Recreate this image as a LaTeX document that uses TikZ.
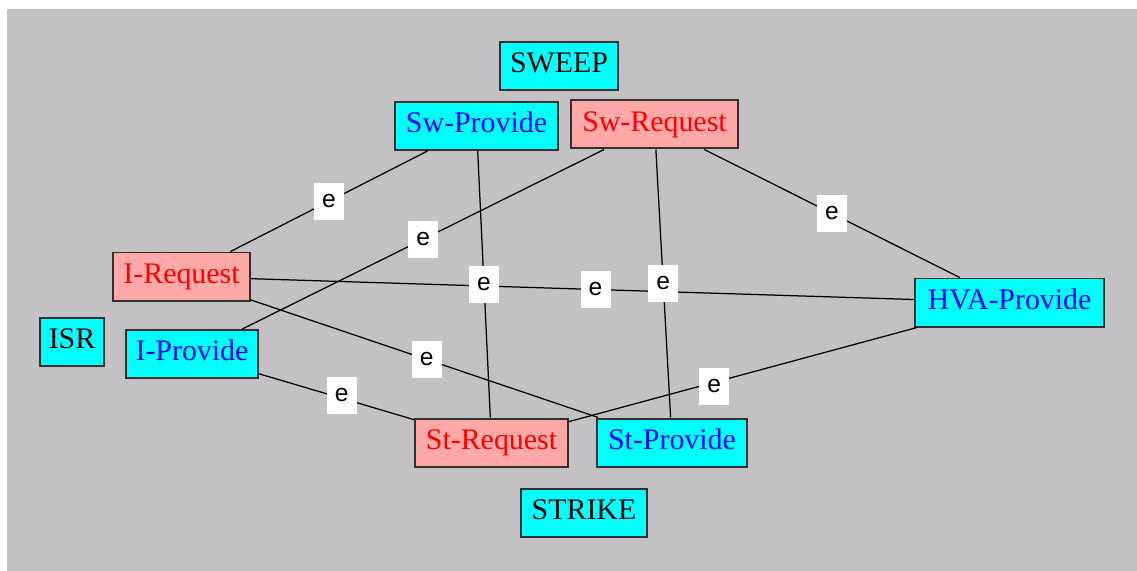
\documentclass[tikz,border=0pt]{standalone}
\usepackage{fontspec}
\setmainfont{Liberation Serif}
\newfontfamily\labfont{Liberation Sans}
\usetikzlibrary{calc}
\definecolor{bggray}{HTML}{C3C1C4}
\definecolor{boxcyan}{HTML}{00FFFF}
\definecolor{boxpink}{HTML}{FFA8A8}
\definecolor{boxborder}{HTML}{303030}
\tikzset{
  box/.style={draw=boxborder, line width=0.04cm, inner sep=0pt,
    font=\fontsize{17}{20}\selectfont, text height=0.8em, text depth=0.04em,
    minimum height=48*0.02cm},
  prov/.style={box, fill=boxcyan, text=blue},
  req/.style={box, fill=boxpink, text=red},
  grp/.style={box, fill=boxcyan, text=black},
  lab/.style={fill=white, inner sep=0pt, minimum width=30*0.02cm,
    minimum height=37*0.02cm, font=\labfont\fontsize{14}{16}\selectfont},
  conn/.style={line width=0.025cm, draw=black}
}
\begin{document}
\begin{tikzpicture}[x=0.02cm, y=-0.02cm]
\useasboundingbox (0,0) rectangle (1137,571);
\fill[bggray] (7,9) rectangle (1137,571);
% nodes
\node[grp, minimum width=118*0.02cm] (sweep) at (559,66) {SWEEP};
\node[prov, minimum width=163*0.02cm] (swp) at (476.5,126) {Sw-Provide};
\node[req, minimum width=167*0.02cm] (swr) at (654.5,124.5) {Sw-Request};
\node[req, minimum width=137*0.02cm] (ir) at (181.5,276.5) {I-Request};
\node[prov, minimum width=132*0.02cm] (ip) at (192,354) {I-Provide};
\node[grp, minimum width=64*0.02cm] (isr) at (72,342) {ISR};
\node[prov, minimum width=189*0.02cm] (hva) at (1009.5,302.5) {HVA-Provide};
\node[req, minimum width=153*0.02cm] (str) at (491.5,442.5) {St-Request};
\node[prov, minimum width=150*0.02cm] (stp) at (672,442.5) {St-Provide};
\node[grp, minimum width=126*0.02cm] (strike) at (584,512.5) {STRIKE};
% connectors
\draw[conn] (swp) -- (ir);
\draw[conn] (swp) -- (str);
\draw[conn] (swr) -- (ip);
\draw[conn] (swr) -- (stp);
\draw[conn] (swr) -- (hva);
\draw[conn] (ir) -- (hva);
\draw[conn] (ir) -- (stp);
\draw[conn] (ip) -- (str);
\draw[conn] (str) -- (hva);
% edge labels
\node[lab] (e1) at ($(swp)!0.5!(ir)$) {e};
\node[lab] (e2) at ($(swr)!0.5!(ip)$) {e};
\node[lab] (e3) at ($(swp)!0.5!(str)$) {e};
\node[lab] (e4) at ($(ir)!0.5!(hva)$) {e};
\node[lab] (e5) at ($(swr)!0.5!(stp)$) {e};
\node[lab] (e6) at ($(swr)!0.5!(hva)$) {e};
\node[lab] (e7) at ($(ir)!0.5!(stp)$) {e};
\node[lab] (e8) at ($(ip)!0.5!(str)+(0,-3)$) {e};
\node[lab] (e9) at ($(str)!0.43!(hva)+(0,4)$) {e};
\end{tikzpicture}
\end{document}
